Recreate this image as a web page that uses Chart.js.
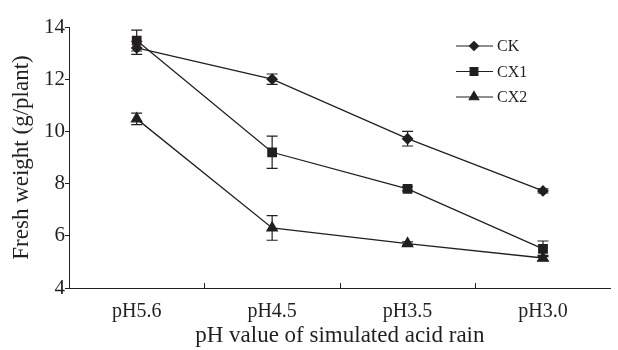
<!DOCTYPE html>
<html>
<head>
<meta charset="utf-8">
<script src="https://cdn.jsdelivr.net/npm/chart.js@4"></script>
<style>
  html, body { margin: 0; padding: 0; background: #fff; }
  #wrap { width: 618px; height: 350px; }
</style>
</head>
<body>
<div id="wrap"><canvas id="fw"></canvas></div>
<script>
// data
const categories = ["pH5.6", "pH4.5", "pH3.5", "pH3.0"];
const ckValues = [13.2, 12.0, 9.72, 7.72];
const cx1Values = [13.48, 9.2, 7.8, 5.5];
const cx2Values = [10.48, 6.3, 5.7, 5.15];
const ckErr = [0.25, 0.2, 0.28, 0.08];
const cx1Err = [0.4, 0.62, 0.08, 0.3];
const cx2Err = [0.22, 0.47, 0.07, 0.1];
const yTicks = [4, 6, 8, 10, 12, 14];

const ink = "#231f20";
const serif = "'Liberation Serif', 'Times New Roman', serif";
Chart.defaults.color = ink;
Chart.defaults.font.family = serif;

// error bars, inward x ticks and the legend
const extras = {
  id: "extras",
  afterDatasetsDraw(chart) {
    const ctx = chart.ctx;
    const x = chart.scales.x, y = chart.scales.y;
    const area = chart.chartArea;
    ctx.save();
    ctx.strokeStyle = ink;
    ctx.lineWidth = 1.2;
    chart.data.datasets.forEach((ds) => {
      ds.data.forEach((v, i) => {
        const px = x.getPixelForValue(i);
        const top = y.getPixelForValue(v + ds.err[i]);
        const bot = y.getPixelForValue(v - ds.err[i]);
        ctx.beginPath();
        ctx.moveTo(px, top); ctx.lineTo(px, bot);
        ctx.moveTo(px - 5.5, top); ctx.lineTo(px + 5.5, top);
        ctx.moveTo(px - 5.5, bot); ctx.lineTo(px + 5.5, bot);
        ctx.stroke();
      });
    });
    // category boundary ticks pointing up
    ctx.lineWidth = 1;
    for (let i = 0; i < categories.length - 1; i++) {
      const bx = Math.round((x.getPixelForValue(i) + x.getPixelForValue(i + 1)) / 2) + 0.5;
      ctx.beginPath();
      ctx.moveTo(bx, area.bottom); ctx.lineTo(bx, area.bottom - 5);
      ctx.stroke();
    }
    // legend
    const lx = 456, ly = 46, gap = 25.5;
    ctx.font = "16px " + serif;
    ctx.textBaseline = "middle";
    ctx.fillStyle = ink;
    chart.data.datasets.forEach((ds, k) => {
      const yy = ly + k * gap;
      ctx.lineWidth = 1.2;
      ctx.beginPath();
      ctx.moveTo(lx, yy); ctx.lineTo(lx + 37, yy);
      ctx.stroke();
      Chart.helpers.drawPoint(ctx, { pointStyle: ds.pointStyle, radius: ds.pointRadius - 0.5, rotation: 0, borderWidth: 1 }, lx + 18, yy);
      ctx.fillText(ds.label, lx + 41, yy + 1);
    });
    ctx.restore();
  }
};

function series(label, data, err, style, r) {
  return {
    label: label, data: data, err: err,
    borderColor: ink, backgroundColor: ink,
    borderWidth: 1.3,
    pointStyle: style, pointRadius: r, pointHoverRadius: r,
    pointBackgroundColor: ink, pointBorderColor: ink,
    tension: 0
  };
}

new Chart(document.getElementById("fw"), {
  type: "line",
  data: {
    labels: categories,
    datasets: [
      series("CK", ckValues, ckErr, "rectRot", 5),
      series("CX1", cx1Values, cx1Err, "rect", 6),
      series("CX2", cx2Values, cx2Err, "triangle", 6),
    ],
  },
  options: {
    responsive: true,
    maintainAspectRatio: false,
    animation: false,
    layout: { padding: { top: 27, right: 1, left: 0, bottom: 0 } },
    plugins: {
      legend: { display: false },
      tooltip: { enabled: false },
    },
    scales: {
      x: {
        offset: true,
        grid: { display: false },
        border: { color: ink, width: 1 },
        ticks: { font: { size: 20 }, color: ink, padding: 4 },
        title: { display: true, text: "pH value of simulated acid rain", font: { size: 23 }, color: ink, padding: { top: 0, bottom: 0 } },
        afterFit: (s) => { s.height = 62; },
      },
      y: {
        min: yTicks[0],
        max: yTicks[yTicks.length - 1],
        afterBuildTicks: (s) => { s.ticks = yTicks.map((v) => ({ value: v })); },
        grid: { drawOnChartArea: false, tickLength: 4, color: ink },
        border: { color: ink, width: 1 },
        ticks: { font: { size: 21 }, color: ink, padding: 0 },
        title: { display: true, text: "Fresh weight (g/plant)", font: { size: 23 }, color: ink, padding: { top: 8, bottom: 0 } },
        afterFit: (s) => { s.width = 69; },
      },
    },
  },
  plugins: [extras],
});
</script>
</body>
</html>
